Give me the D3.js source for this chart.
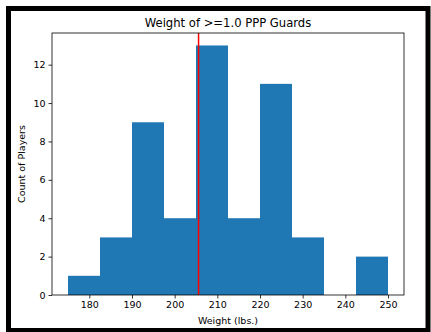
<!DOCTYPE html>
<html><head><meta charset="utf-8">
<script src="https://cdn.jsdelivr.net/npm/d3@7"></script>
<style>body{margin:0;background:#fff}svg{display:block;font-family:"DejaVu Sans",sans-serif}</style>
</head><body>
<script>
const binEdges = [175, 182.5, 190, 197.5, 205, 212.5, 220, 227.5, 235, 242.5, 250];
const counts = [1, 3, 9, 4, 13, 4, 11, 3, 0, 2];
const meanWeight = 205.6;
const xTicks = [180, 190, 200, 210, 220, 230, 240, 250];
const yTicks = [0, 2, 4, 6, 8, 10, 12];
const title = "Weight of >=1.0 PPP Guards";
const xLabel = "Weight (lbs.)";
const yLabel = "Count of Players";

const W = 431, H = 332;
const L = 52, R = 404, T = 33, B = 295;
const svg = d3.select("body").append("svg").attr("width", W).attr("height", H);
svg.append("rect").attr("x",0).attr("y",0).attr("width",W).attr("height",H).attr("fill","#fff");
svg.append("rect").attr("x",8.5).attr("y",8.5).attr("width",419.5).attr("height",322)
  .attr("fill","#fff").attr("stroke","#000").attr("stroke-width",5);

const x = d3.scaleLinear().domain([171.25, 253.75]).range([L, R]);
const y = d3.scaleLinear().domain([0, 13.65]).range([B, T]);

const bins = counts.map((c, i) => ({x0: binEdges[i], x1: binEdges[i+1], c}));
svg.append("g").selectAll("rect").data(bins).join("rect")
  .attr("x", d => x(d.x0)).attr("width", d => x(d.x1) - x(d.x0))
  .attr("y", d => y(d.c)).attr("height", d => y(0) - y(d.c))
  .attr("fill", "#1f77b4");

svg.append("line").attr("x1", x(meanWeight)).attr("x2", x(meanWeight))
  .attr("y1", T).attr("y2", B).attr("stroke", "red").attr("stroke-width", 1.5);

const xAxis = svg.append("g").attr("transform", `translate(0,${B})`)
  .call(d3.axisBottom(x).tickValues(xTicks).tickSize(3.5).tickPadding(3).tickFormat(d3.format("d")));
const yAxis = svg.append("g").attr("transform", `translate(${L},0)`)
  .call(d3.axisLeft(y).tickValues(yTicks).tickSize(3.5).tickPadding(3).tickFormat(d3.format("d")));
[xAxis, yAxis].forEach(a => {
  a.select(".domain").remove();
  a.selectAll("text").attr("font-size", 9.5).attr("fill", "#000").attr("font-family", "DejaVu Sans");
  a.selectAll("line").attr("stroke", "#000").attr("stroke-width", 0.8);
});

svg.append("rect").attr("x", L).attr("y", T).attr("width", R - L).attr("height", B - T)
  .attr("fill", "none").attr("stroke", "#000").attr("stroke-width", 0.8);

svg.append("text").attr("x", (L + R) / 2).attr("y", 27).attr("text-anchor", "middle")
  .attr("font-size", 11.6).text(title);
svg.append("text").attr("x", (L + R) / 2).attr("y", 324).attr("text-anchor", "middle")
  .attr("font-size", 9.5).text(xLabel);
svg.append("text").attr("transform", `translate(25,${(T + B) / 2}) rotate(-90)`)
  .attr("text-anchor", "middle").attr("font-size", 9.5).text(yLabel);
</script>
</body></html>
